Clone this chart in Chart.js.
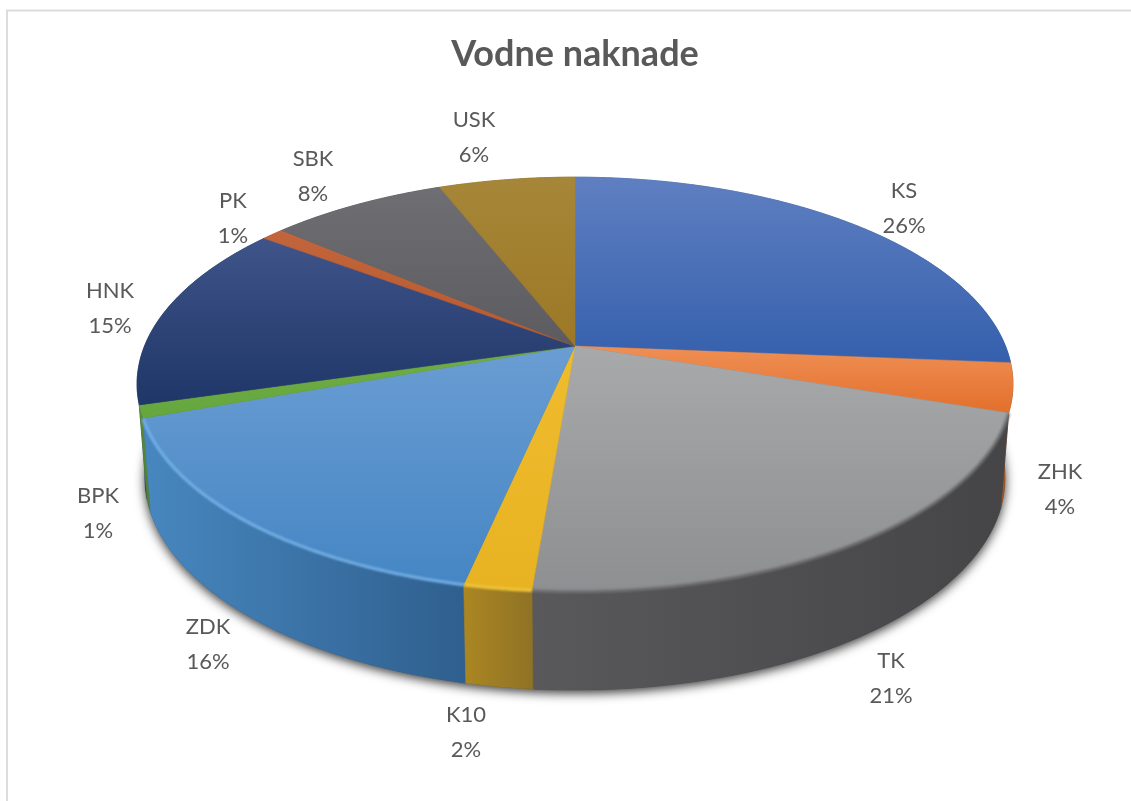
<!DOCTYPE html>
<html><head><meta charset="utf-8">
<style>html,body{margin:0;padding:0;background:#fff}canvas{display:block}</style>
<script src="https://cdn.jsdelivr.net/npm/chart.js@4"></script>
</head><body><canvas id="c" width="1131" height="801"></canvas>
<script>
const categories = ['KS','ZHK','TK','K10','ZDK','BPK','HNK','PK','SBK','USK'];
const shares = [26.3,3.8,21.2,2.1,16.1,1,14.7,1,7.8,6];
const baseColors = ['#4472c4','#ed7d31','#a5a5a5','#ffc000','#5b9bd5','#70ad47','#264478','#c55a28','#636363','#9e7b2c'];
const faceTop = ['#5f7fc1','#ef8f55','#a8a9ab','#efbc2e','#6a9dd3','#6fae45','#3f5489','#c2653c','#6f6f73','#a68638'];
const faceEnd = ['#3560ad','#e36f2c','#8e8f91','#e8b322','#4586c4','#66a63e','#1f3668','#b85a2e','#5c5c60','#9c7826'];
const sideLeft = ['#3a62a8','#a85a28','#59595b','#ab8722','#4787bf','#5a8c38','#1f3668','#8a4420','#444','#7a5e20'];
const sideRight = ['#2f5290','#8a4a22','#454547','#8f7226','#2f5f8e','#4f7c30','#1f3668','#8a4420','#444','#7a5e20'];
const rimColors = ['#5a80c8','#f09a60','#727274','#f2c63c','#74b0e6','#7cc050','#3f5489','#c2653c','#777','#a68638'];

// label centres for the two-line captions
const captionCentres = {KS:[904,208],ZHK:[1060,489],TK:[891,678],K10:[466,732],ZDK:[208,644],BPK:[98,513],HNK:[110,308],PK:[233,218],SBK:[313,176],USK:[474,137]};

const tilt = {a:0.1837, c:430.5, b:200, rx:0.982, ry:1.024, midTop:384, midBottom:478};

function topPoint(el, ang){
  const X=Math.cos(ang), Y=Math.sin(ang), w=1-tilt.a*Y;
  return [el.x+tilt.c*X/w, el.y+tilt.b*Y/w];
}
function bottomPoint(el, ang){
  const p=topPoint(el,ang);
  return [el.x+(p[0]-el.x)*tilt.rx, tilt.midBottom+(p[1]-tilt.midTop)*tilt.ry];
}
function sample(a0,a1){
  const n=Math.max(2,Math.ceil(Math.abs(a1-a0)/0.01)), out=[];
  for(let i=0;i<=n;i++) out.push(a0+(a1-a0)*i/n);
  return out;
}
function poly(ctx,pts){
  ctx.beginPath();
  pts.forEach((p,i)=> i?ctx.lineTo(p[0],p[1]):ctx.moveTo(p[0],p[1]));
  ctx.closePath();
}
const pie3d = {
  id:'pie3d',
  beforeDraw(chart){
    const ctx=chart.ctx;
    ctx.save();
    ctx.strokeStyle='#dcdcdc'; ctx.lineWidth=2;
    ctx.beginPath(); ctx.moveTo(7,801); ctx.lineTo(7,10.5); ctx.lineTo(1131,10.5); ctx.stroke();
    ctx.restore();
  },
  beforeDatasetsDraw(chart){
    const ctx=chart.ctx, arcs=chart.getDatasetMeta(0).data, e0=arcs[0];
    ctx.save();
    // soft shadow of the whole body
    ctx.save();
    ctx.shadowColor='rgba(0,0,0,0.8)'; ctx.shadowBlur=11; ctx.shadowOffsetY=3; ctx.shadowOffsetX=0;
    ctx.fillStyle='#444';
    poly(ctx,sample(0,Math.PI*2).map(a=>bottomPoint(e0,a))); ctx.fill();
    ctx.restore();
    // side walls, back to front
    const order=arcs.map((el,i)=>i).sort((p,q)=>
      Math.sin((arcs[p].startAngle+arcs[p].endAngle)/2)-Math.sin((arcs[q].startAngle+arcs[q].endAngle)/2));
    order.forEach(i=>{
      const el=arcs[i], as=sample(el.startAngle,el.endAngle);
      const up=as.map(a=>topPoint(el,a)), low=as.map(a=>bottomPoint(el,a)).reverse();
      const pts=up.concat(low), xs=pts.map(p=>p[0]);
      const g=ctx.createLinearGradient(Math.min(...xs),0,Math.max(...xs),0);
      g.addColorStop(0,sideLeft[i]); g.addColorStop(1,sideRight[i]);
      ctx.fillStyle=g; poly(ctx,pts); ctx.fill();
      ctx.strokeStyle=g; ctx.lineWidth=0.6; ctx.stroke();
    });
    // top faces
    arcs.forEach((el,i)=>{
      const pts=[[el.x,el.y]].concat(sample(el.startAngle,el.endAngle).map(a=>topPoint(el,a)));
      const ys=pts.map(p=>p[1]);
      const g=ctx.createLinearGradient(0,Math.min(...ys),0,Math.max(...ys));
      g.addColorStop(0,faceTop[i]); g.addColorStop(1,faceEnd[i]);
      ctx.fillStyle=g; poly(ctx,pts); ctx.fill();
      ctx.strokeStyle=g; ctx.lineWidth=0.5; ctx.stroke();
    });
    // bevel highlight along the visible front rim
    ctx.filter='blur(1px)';
    arcs.forEach((el,i)=>{
      if(Math.sin((el.startAngle+el.endAngle)/2)<=0.4) return;
      const pts=sample(el.startAngle,el.endAngle).map(a=>topPoint(el,a));
      ctx.strokeStyle=rimColors[i]; ctx.lineWidth=3;
      ctx.beginPath(); pts.forEach((p,k)=>k?ctx.lineTo(p[0],p[1]+0.5):ctx.moveTo(p[0],p[1]+0.5)); ctx.stroke();
    });
    ctx.filter='none';
    ctx.restore();
    return false;
  },
  afterDraw(chart){
    const ctx=chart.ctx, vals=chart.data.datasets[0].data;
    ctx.save();
    ctx.fillStyle='#595959'; ctx.textAlign='center'; ctx.textBaseline='middle';
    ctx.font='22px Lato';
    chart.data.labels.forEach((name,i)=>{
      const c=captionCentres[name];
      ctx.fillText(name,c[0],c[1]-17);
      ctx.fillText(Math.round(vals[i])+'%',c[0],c[1]+17.5);
    });
    ctx.restore();
  }
};
new Chart(document.getElementById('c'),{
  type:'pie',
  data:{labels:categories,datasets:[{data:shares,backgroundColor:baseColors,borderWidth:0}]},
  options:{
    responsive:false,animation:false,
    layout:{padding:{left:19,bottom:190}},
    plugins:{
      legend:{display:false},tooltip:{enabled:false},
      title:{display:true,text:'Vodne naknade',color:'#595959',font:{family:'Lato',size:36,weight:'bold'},padding:{top:33,bottom:5}}
    }
  },
  plugins:[pie3d]
});
</script></body></html>
